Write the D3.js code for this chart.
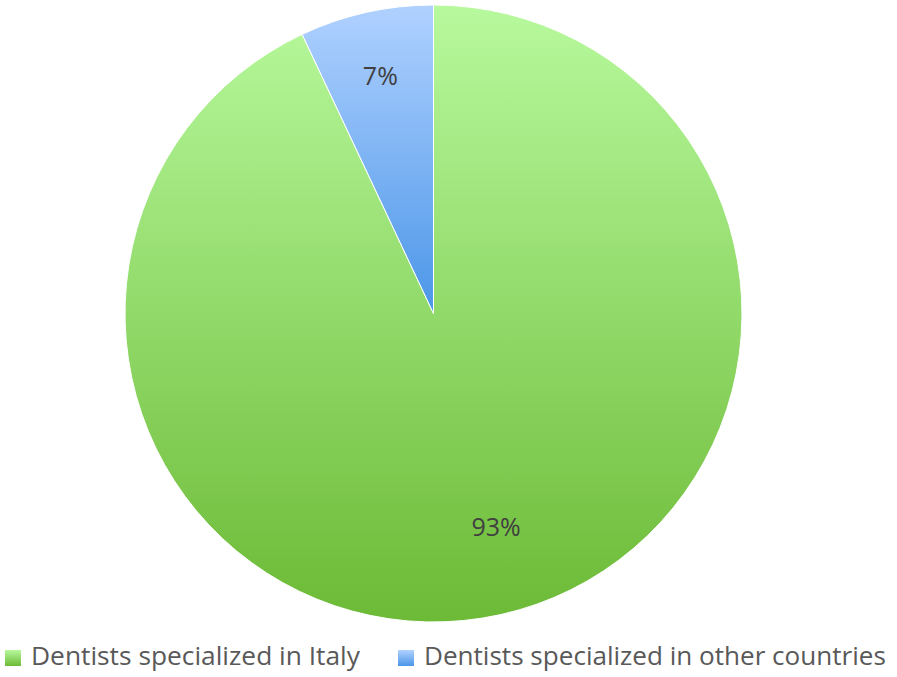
<!DOCTYPE html>
<html>
<head>
<meta charset="utf-8">
<script src="https://cdn.jsdelivr.net/npm/d3@7"></script>
<style>
  body { margin: 0; background: #fff; }
  svg { display: block; font-family: 'Open Sans', sans-serif; }
</style>
</head>
<body>
<svg class="pie" width="897" height="677"></svg>
<script>
// chart data
const categories = ['Dentists specialized in Italy', 'Dentists specialized in other countries'];
const values = [93, 7];
const labels = ['93%', '7%'];
const gradTop = ['#b7f99d', '#b0d1ff'];
const gradBottom = ['#6cba36', '#4b96e8'];

const svg = d3.select('svg.pie'),
    cx = 433.5,
    cy = 313.5,
    radius = 308.5;

const defs = svg.append('defs');
categories.forEach((c, i) => {
    const lg = defs.append('linearGradient')
        .attr('id', 'grad' + i)
        .attr('x1', 0).attr('y1', 0).attr('x2', 0).attr('y2', 1);
    lg.append('stop').attr('offset', '0%').attr('stop-color', gradTop[i]);
    lg.append('stop').attr('offset', '100%').attr('stop-color', gradBottom[i]);
});

const pie = d3.pie().sort(null).value((d) => d.value);
const arc = d3.arc().innerRadius(0).outerRadius(radius);

const data = categories.map((c, i) => ({ name: c, value: values[i], label: labels[i], idx: i }));
const arcs = pie(data);

const g = svg.append('g')
    .attr('transform', 'translate(' + cx + ',' + cy + ')');

g.selectAll('.slice')
    .data(arcs)
    .enter().append('path')
    .attr('class', 'slice')
    .attr('d', arc)
    .attr('fill', (d) => 'url(#grad' + d.data.idx + ')')
    .attr('stroke', '#fff')
    .attr('stroke-width', 1);

// data labels: radius fraction and a small angle nudge (radians) per slice
const labelR = [0.72, 0.79];
const labelNudge = [-0.066, 0];
g.selectAll('.lbl')
    .data(arcs)
    .enter().append('text')
    .attr('class', 'lbl')
    .attr('transform', (d) => {
        const r = radius * labelR[d.data.idx];
        const a = (d.startAngle + d.endAngle) / 2 + labelNudge[d.data.idx];
        return 'translate(' + (Math.sin(a) * r) + ',' + (-Math.cos(a) * r) + ')';
    })
    .attr('text-anchor', 'middle')
    .attr('dy', '0.36em')
    .attr('fill', '#404040')
    .style('font-size', '25px')
    .text((d) => d.data.label);

// legend
const legendX = [5, 398];
const legendW = [329, 462];
const legend = svg.append('g').attr('class', 'legend');
categories.forEach((c, i) => {
    legend.append('rect')
        .attr('x', legendX[i]).attr('y', 650)
        .attr('width', 16).attr('height', 16)
        .attr('fill', 'url(#grad' + i + ')');
    const t = legend.append('text')
        .attr('x', legendX[i] + 26)
        .attr('y', 665)
        .attr('fill', '#595959')
        .style('font-size', '23px')
        .text(c);
    const w = t.node().getComputedTextLength();
    t.style('font-size', (23 * legendW[i] / w) + 'px');
});
</script>
</body>
</html>
